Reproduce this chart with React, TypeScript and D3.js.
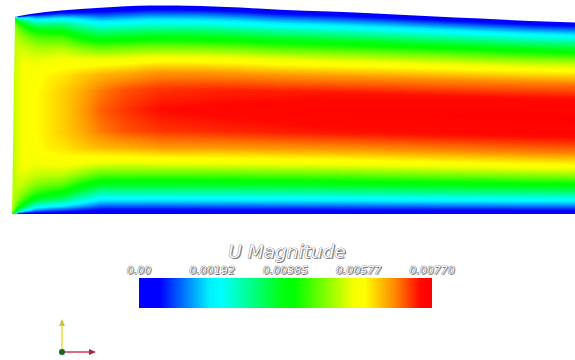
import React, { useMemo } from "react";
import * as d3 from "d3";

// ---- legend / colour map ----
const U_MAX = 0.0077;
const tickValues = [0, 0.00192, 0.00385, 0.00577, 0.0077];
const tickLabels = ["0.00", "0.00192", "0.00385", "0.00577", "0.00770"];
const legendTitle = "U Magnitude";
const colorFractions = [0, 0.07, 0.24, 0.28, 0.49, 0.53, 0.73, 0.77, 0.87, 0.96, 1];
const colorStops = [
  "#0000ff", "#0000ff", "#00f0ff", "#00ffff", "#00ff10", "#00ff00",
  "#f4ff00", "#ffff00", "#ff8c00", "#ff0800", "#ff0000",
];

// ---- channel geometry (s: axial, 0 = inlet, 1 = right edge of view; h: top wall height / inlet height) ----
const wallS = [0, 0.03, 0.084, 0.155, 0.244, 0.333, 0.404, 0.475, 0.564, 0.653, 0.742, 0.831, 0.92, 1.0];
const wallH = [1.0, 1.015, 1.033, 1.047, 1.058, 1.056, 1.048, 1.037, 1.028, 1.017, 1.004, 0.992, 0.98, 0.972];

// ---- velocity magnitude samples (1e-3 m/s) ----
// axial stations
const sampleS = [0, 0.009, 0.021, 0.039, 0.062, 0.087, 0.119, 0.155, 0.199, 0.262, 0.368, 0.564, 1.0];
// distance from wall as fraction of channel width (symmetric about centre 0.5)
const sampleEta = [0, 0.015, 0.04, 0.07, 0.1, 0.14, 0.19, 0.25, 0.32, 0.4, 0.5];
const uStation0 = [4.24, 4.93, 5.16, 5.24, 5.24, 5.24, 5.24, 5.24, 5.24, 5.24, 5.24];
const uStation1 = [0, 3.08, 4.31, 4.85, 5.08, 5.31, 5.47, 5.54, 5.54, 5.54, 5.54];
const uStation2 = [0, 1.93, 3.47, 4.31, 4.77, 5.16, 5.47, 5.7, 5.78, 5.78, 5.78];
const uStation3 = [0, 1.16, 2.46, 3.62, 4.31, 4.85, 5.31, 5.62, 5.85, 5.93, 5.93];
const uStation4 = [0, 0.92, 2.16, 3.31, 4.08, 4.7, 5.24, 5.7, 6.01, 6.08, 6.08];
const uStation5 = [0, 0.77, 1.93, 3.08, 3.85, 4.62, 5.24, 5.78, 6.08, 6.24, 6.24];
const uStation6 = [0, 0.54, 1.54, 2.46, 3.23, 4.08, 4.93, 5.7, 6.24, 6.47, 6.55];
const uStation7 = [0, 0.42, 1.12, 1.93, 2.7, 3.62, 4.62, 5.62, 6.39, 6.78, 6.93];
const uStation8 = [0, 0.42, 1.12, 1.93, 2.7, 3.62, 4.62, 5.62, 6.47, 7.01, 7.16];
const uStation9 = [0, 0.42, 1.12, 1.93, 2.7, 3.62, 4.62, 5.7, 6.62, 7.16, 7.39];
const uStation10 = [0, 0.42, 1.16, 1.93, 2.7, 3.62, 4.62, 5.7, 6.62, 7.24, 7.47];
const uStation11 = [0, 0.42, 1.16, 1.93, 2.7, 3.62, 4.62, 5.7, 6.62, 7.32, 7.55];
const uStation12 = [0, 0.46, 1.19, 2.0, 2.77, 3.7, 4.77, 5.85, 6.78, 7.39, 7.7];
const profiles = [
  uStation0, uStation1, uStation2, uStation3, uStation4, uStation5, uStation6,
  uStation7, uStation8, uStation9, uStation10, uStation11, uStation12,
];
const FIELD_UNIT = 1e-3;

const W = 575;
const H = 360;

const xScale = d3.scaleLinear().domain([0, 1]).range([13.5, 575]);
const yScale = d3.scaleLinear().domain([0, 1]).range([214, 17]);
const colorScale = d3
  .scaleLinear<string>()
  .domain(colorFractions.map((f) => f * U_MAX))
  .range(colorStops)
  .interpolate(d3.interpolateRgb)
  .clamp(true);
const legendX = d3.scaleLinear().domain([0, U_MAX]).range([139, 432]);

function buildField() {
  const heightScale = d3.scaleLinear().domain(wallS).range(wallH).clamp(true);
  const rowScales = sampleEta.map((_, k) =>
    d3.scaleLinear().domain(sampleS).range(profiles.map((p) => p[k])).clamp(true)
  );
  const level = d3.scaleQuantize<number>().domain([0, U_MAX]).range(d3.range(256));
  const x0 = Math.floor(xScale(0)) - 3;
  const cols: { px: number; top: number; prof: (e: number) => number }[] = [];
  for (let px = x0; px < W + 1; px++) {
    const s = xScale.invert(px + 0.5);
    const top = yScale(heightScale(s));
    const prof = d3
      .scaleLinear()
      .domain(sampleEta)
      .range(rowScales.map((r) => r(s)))
      .clamp(true);
    cols.push({ px, top, prof });
  }
  const bottom = yScale(0);
  const minTop = Math.floor(d3.min(cols, (c) => c.top) as number) - 1;
  const runs = new Map<number, string[]>();
  const push = (L: number, xa: number, xb: number, y: number) => {
    if (L < 0) return;
    const w = xb - xa;
    if (!runs.has(L)) runs.set(L, []);
    runs.get(L)!.push(`M${xa},${y}h${w}v1h${-w}z`);
  };
  for (let py = minTop; py < Math.ceil(bottom) + 1; py++) {
    const yc = py + 0.5;
    let cur = -1;
    let start = cols[0].px;
    for (let i = 0; i < cols.length; i++) {
      const c = cols[i];
      let L = -1;
      if (yc >= c.top - 1.5 && yc <= bottom + 1.5) {
        const eta = Math.max(0, Math.min(1, (yc - c.top) / (bottom - c.top)));
        const e = Math.min(eta, 1 - eta);
        L = level(c.prof(e) * FIELD_UNIT);
      }
      if (L !== cur) {
        push(cur, start, c.px, py);
        cur = L;
        start = c.px;
      }
    }
    push(cur, start, cols[cols.length - 1].px + 1, py);
  }
  const out: { d: string; fill: string; key: number }[] = [];
  runs.forEach((arr, L) => {
    out.push({ d: arr.join(""), fill: colorScale(((L + 0.5) / 256) * U_MAX), key: L });
  });
  // domain outline
  const topLine = d3
    .line<number>()
    .x((_, i) => xScale(wallS[i]))
    .y((_, i) => yScale(wallH[i]))
    .curve(d3.curveMonotoneX);
  const topPath = topLine(wallS.map((s) => s)) as string;
  const left = xScale(0);
  const clip =
    `M${left + 1.5},${yScale(wallH[0])}` +
    topPath.replace(/^M[^A-Za-z]*/, (m) => "L" + m.slice(1)) +
    `L${W + 2},${yScale(wallH[wallH.length - 1])}L${W + 2},${bottom}L${left - 1.5},${bottom}Z`;
  return { paths: out, clip };
}

function EmbossText(props: { x: number; y: number; size: number; text: string }) {
  const { x, y, size, text } = props;
  const common = {
    x,
    y,
    fontSize: size,
    fontFamily: "'DejaVu Sans', Verdana, sans-serif",
    fontStyle: "italic" as const,
    textAnchor: "middle" as const,
  };
  return (
    <g>
      <text {...common} dx={1.1} dy={1.1} fill="#8a8a8a">
        {text}
      </text>
      <text {...common} fill="#fafafa" stroke="#5a5a5a" strokeWidth={0.7} paintOrder="stroke">
        {text}
      </text>
    </g>
  );
}

export default function App() {
  const field = useMemo(buildField, []);
  const barY = 278;
  const barH = 30;
  const origin = { x: 62, y: 352 };
  return (
    <svg
      width={W}
      height={H}
      style={{ position: "absolute", left: 0, top: 0, background: "#ffffff" }}
    >
      <defs>
        <clipPath id="domainClip">
          <path d={field.clip} />
        </clipPath>
        <linearGradient id="cbarGrad" x1="0" x2="1" y1="0" y2="0">
          {colorFractions.map((f, i) => (
            <stop key={i} offset={f} stopColor={colorScale(f * U_MAX)} />
          ))}
        </linearGradient>
      </defs>
      <rect width={W} height={H} fill="#ffffff" />
      <g clipPath="url(#domainClip)">
        <g shapeRendering="crispEdges">
          {field.paths.map((p) => (
            <path key={p.key} d={p.d} fill={p.fill} />
          ))}
        </g>
      </g>

      {/* legend */}
      <EmbossText x={287} y={258} size={18.5} text={legendTitle} />
      {tickValues.map((v, i) => (
        <EmbossText key={i} x={legendX(v)} y={274} size={11} text={tickLabels[i]} />
      ))}
      <rect
        x={legendX(0)}
        y={barY}
        width={legendX(U_MAX) - legendX(0)}
        height={barH}
        fill="url(#cbarGrad)"
      />

      {/* orientation triad */}
      <line x1={origin.x} y1={origin.y} x2={origin.x} y2={origin.y - 27} stroke="#ece048" strokeWidth={1.6} />
      <path
        d={`M${origin.x - 3},${origin.y - 26}L${origin.x + 3},${origin.y - 26}L${origin.x},${origin.y - 33}Z`}
        fill="#c9c23a"
      />
      <line x1={origin.x} y1={origin.y} x2={origin.x + 28} y2={origin.y} stroke="#d8416a" strokeWidth={1.6} />
      <path
        d={`M${origin.x + 27},${origin.y - 3}L${origin.x + 27},${origin.y + 3}L${origin.x + 34},${origin.y}Z`}
        fill="#b3253f"
      />
      <circle cx={origin.x} cy={origin.y} r={3} fill="#0e6a22" />
    </svg>
  );
}
